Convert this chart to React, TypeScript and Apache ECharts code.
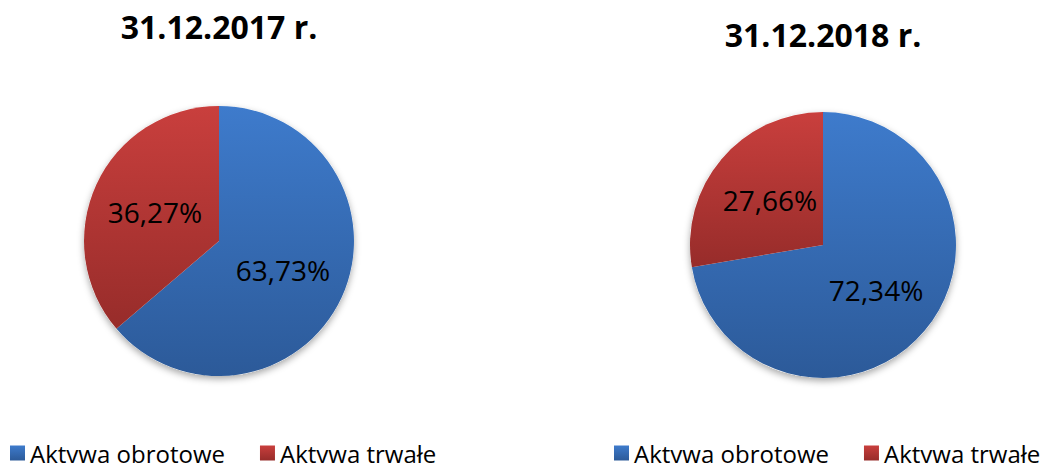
import React, { useEffect, useRef } from "react";
import * as echarts from "echarts";

const categories = ["Aktywa obrotowe", "Aktywa trwałe"];
const values2017 = [63.73, 36.27];
const values2018 = [72.34, 27.66];
const titles = ["31.12.2017 r.", "31.12.2018 r."];

const FONT = "'Open Sans', 'Noto Sans', sans-serif";

const blueGrad = () =>
  new echarts.graphic.LinearGradient(0, 0, 0, 1, [
    { offset: 0, color: "#3e7bcc" },
    { offset: 1, color: "#2c5a99" },
  ]);
const redGrad = () =>
  new echarts.graphic.LinearGradient(0, 0, 0, 1, [
    { offset: 0, color: "#c93f3d" },
    { offset: 1, color: "#972c2a" },
  ]);

const makeData = (vals: number[]) =>
  vals.map((v, i) => ({
    name: categories[i],
    value: v,
    itemStyle: { color: i === 0 ? blueGrad() : redGrad() },
  }));

const fmt = (p: any) => p.value.toFixed(2).replace(".", ",") + "%";

export default function App() {
  const ref = useRef<HTMLDivElement>(null);
  useEffect(() => {
    if (!ref.current) return;
    const chart = echarts.init(ref.current, undefined, { renderer: "svg" });
    const pieCommon = (center: number[], radius: number, vals: number[]) => ({
      type: "pie",
      center,
      radius,
      startAngle: 90,
      clockwise: true,
      data: makeData(vals),
      label: {
        show: true,
        position: "inside",
        formatter: fmt,
        fontSize: 28,
        fontFamily: FONT,
        color: "#000",
      },
      labelLine: { show: false },
      emphasis: { disabled: true },
      z: 2,
    });
    const backdrop = (center: number[], radius: number) => ({
      type: "pie",
      center,
      radius,
      silent: true,
      data: [{ value: 1, name: "" }],
      label: { show: false },
      labelLine: { show: false },
      itemStyle: {
        color: "#ffffff",
        shadowColor: "rgba(0,0,0,0.35)",
        shadowBlur: 7,
        shadowOffsetY: 3,
      },
      z: 1,
    });
    const legendCommon = {
      data: categories,
      top: 441,
      padding: 0,
      icon: "rect",
      itemWidth: 15,
      itemHeight: 15,
      itemGap: 35,
      selectedMode: false,
      textStyle: { fontFamily: FONT, fontSize: 24, color: "#000" },
    };
    chart.setOption({
      animation: false,
      backgroundColor: "#ffffff",
      title: [
        {
          text: titles[0],
          left: 219,
          top: 10,
          textAlign: "center",
          padding: 0,
          textStyle: { fontFamily: FONT, fontSize: 32, fontWeight: "bold", color: "#000" },
        },
        {
          text: titles[1],
          left: 823,
          top: 18,
          textAlign: "center",
          padding: 0,
          textStyle: { fontFamily: FONT, fontSize: 32, fontWeight: "bold", color: "#000" },
        },
      ],
      legend: [
        { ...legendCommon, left: 10 },
        { ...legendCommon, left: 614 },
      ],
      series: [
        backdrop([219, 241], 135),
        pieCommon([219, 241], 135, values2017),
        backdrop([823, 245], 133),
        pieCommon([823, 245], 133, values2018),
      ],
    });
    return () => chart.dispose();
  }, []);
  return (
    <div
      ref={ref}
      style={{ position: "fixed", left: 0, top: 0, width: 1043, height: 463 }}
    />
  );
}
